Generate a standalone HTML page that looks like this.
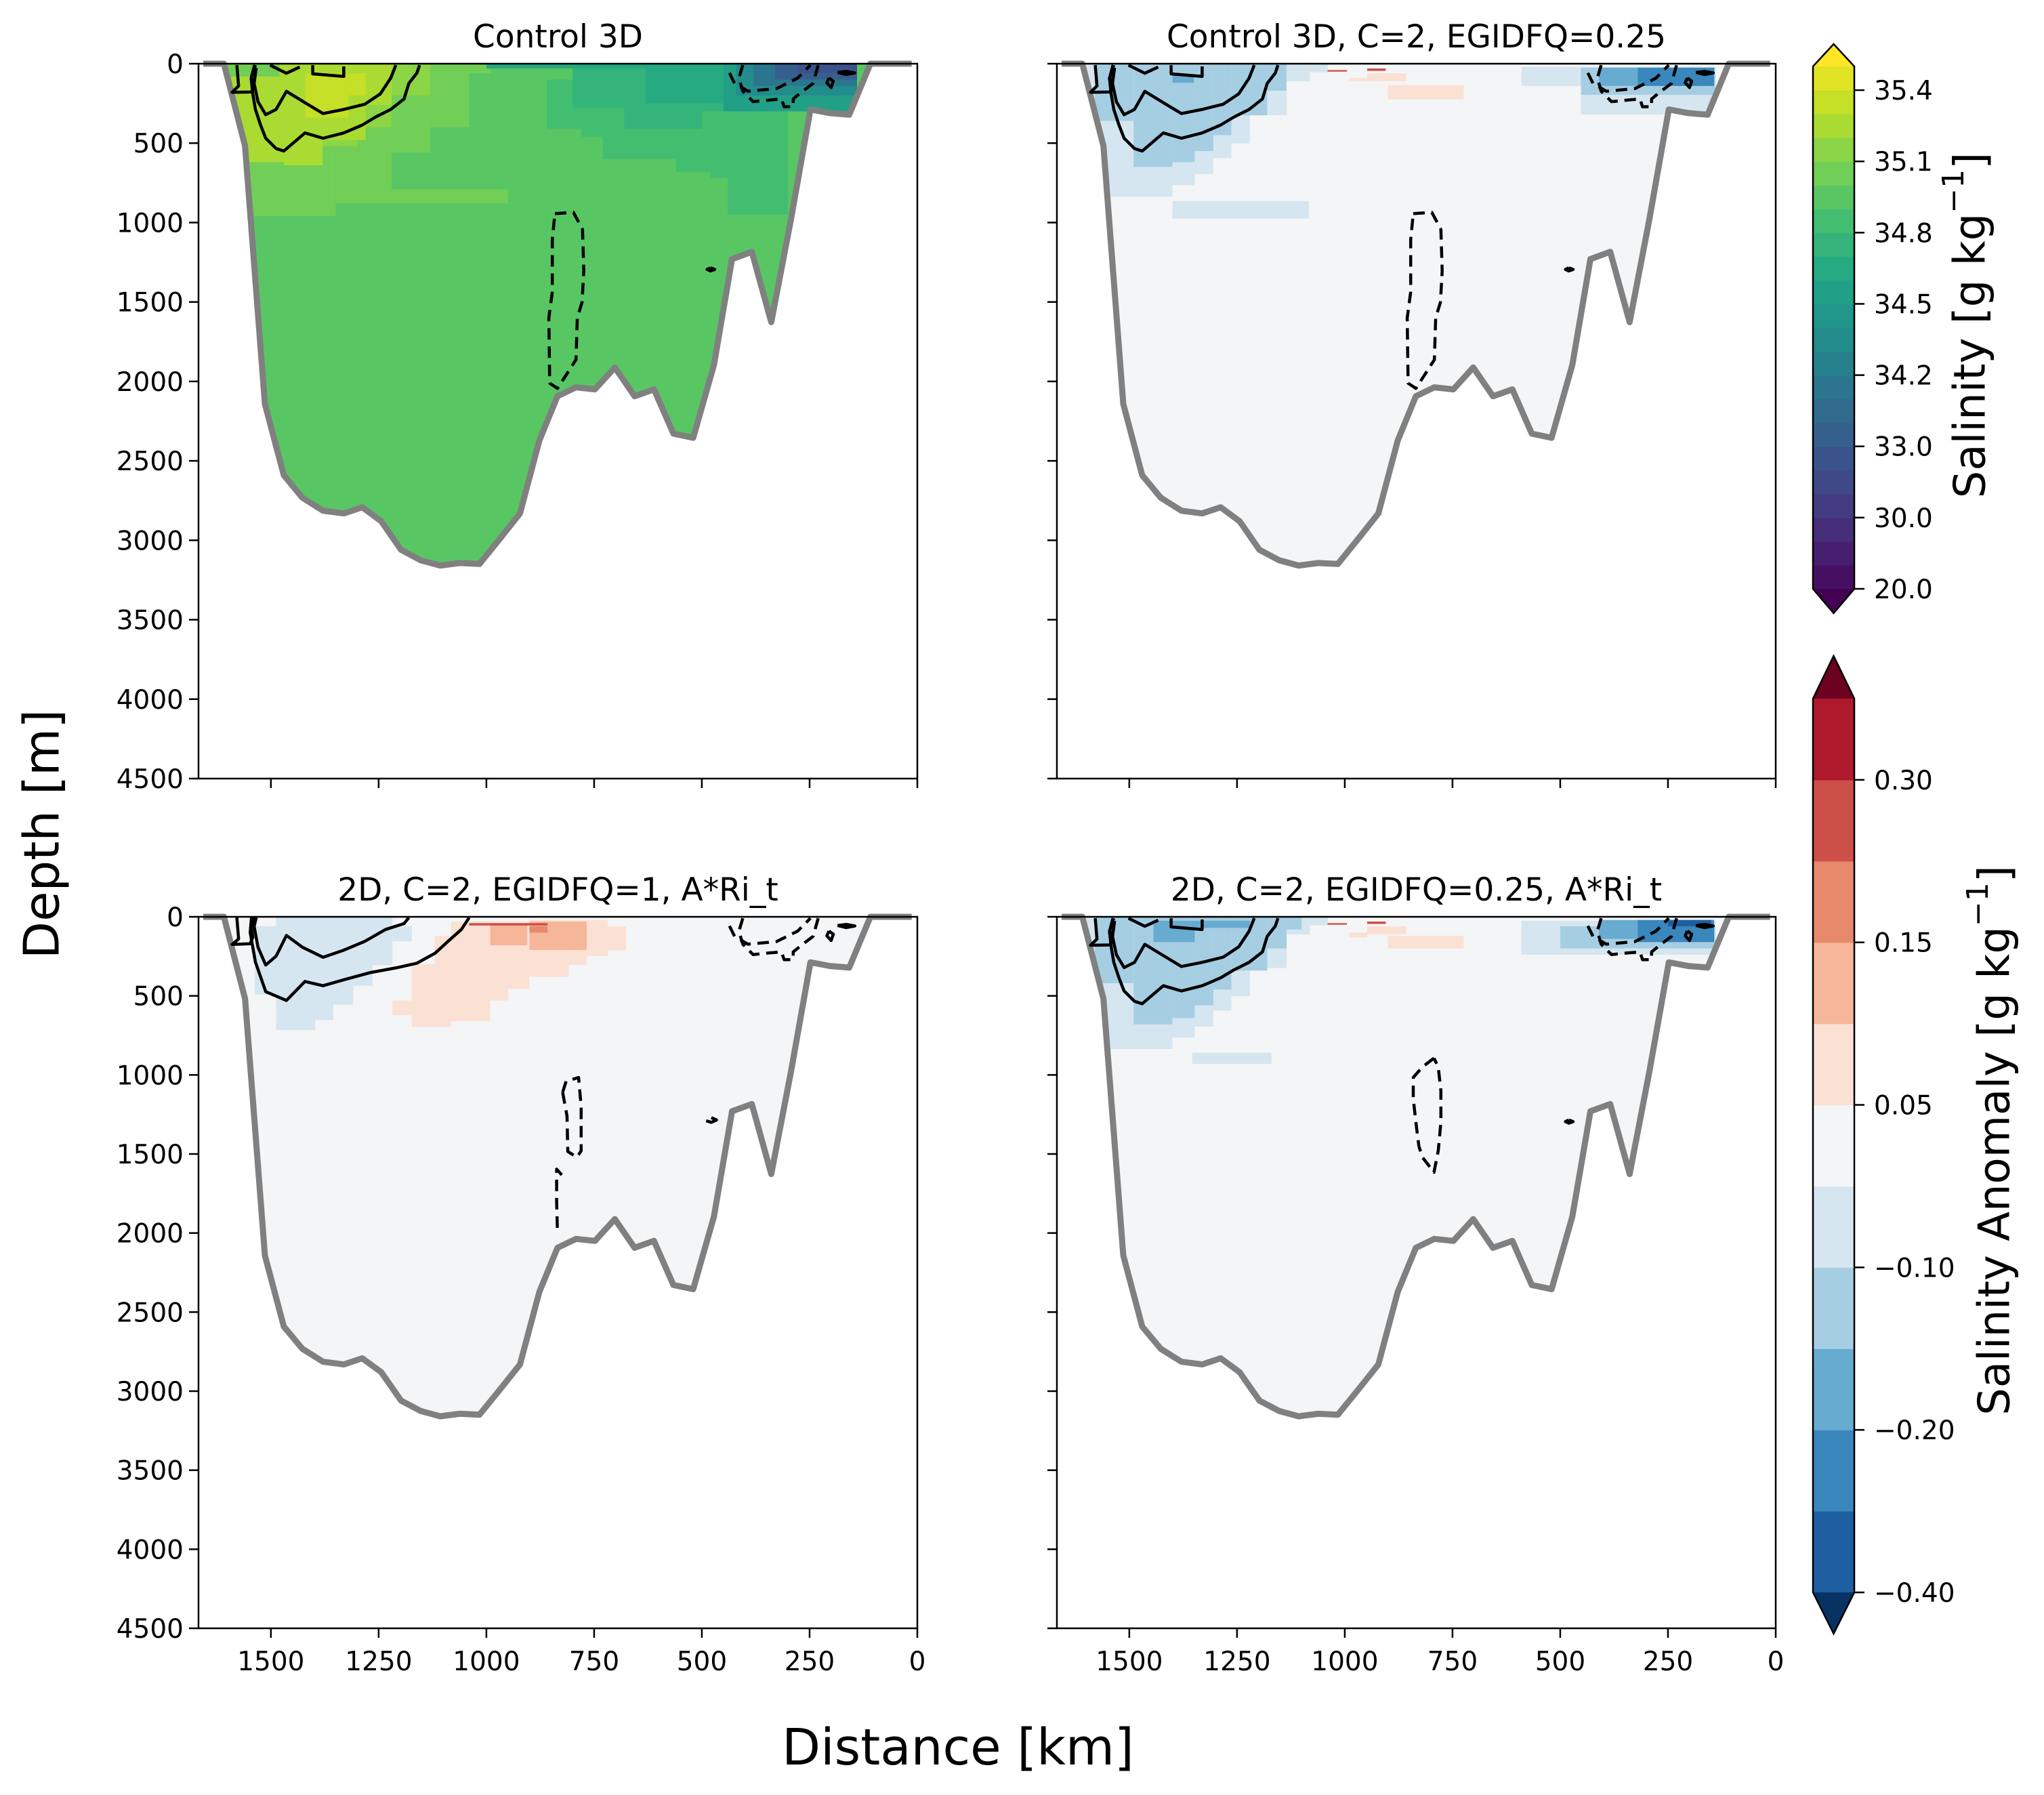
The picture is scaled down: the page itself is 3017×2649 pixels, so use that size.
<!DOCTYPE html>
<html><head><meta charset="utf-8"><style>
html,body{margin:0;padding:0;background:#fff;}
svg{display:block;font-family:"DejaVu Sans","Liberation Sans",sans-serif;}
</style></head><body>
<svg id="fig" xmlns="http://www.w3.org/2000/svg" width="3017" height="2649" viewBox="0 0 3017 2649">
<rect width="3017" height="2649" fill="#fff"/>
<g id="panels"></g>
<g id="cbars"></g>
<text x="67" y="1231" font-size="72" text-anchor="middle" dominant-baseline="middle" transform="rotate(-90 67 1231)">Depth [m]</text>
<text x="1414" y="2604" font-size="74" text-anchor="middle">Distance [km]</text>
<text x="2912" y="480" font-size="64" text-anchor="middle" dominant-baseline="middle" transform="rotate(-90 2912 480)">Salinity [g kg<tspan dy="-26" font-size="44">−1</tspan><tspan dy="26">]</tspan></text>
<text x="2948" y="1683" font-size="64" text-anchor="middle" dominant-baseline="middle" transform="rotate(-90 2948 1683)">Salinity Anomaly [g kg<tspan dy="-26" font-size="44">−1</tspan><tspan dy="26">]</tspan></text>
</svg>
<script>
const NS="http://www.w3.org/2000/svg";
// ---- data ----
const bathyDist=[1657,1609,1560,1514,1470,1427,1379,1331,1288,1244,1198,1152,1107,1062,1016,968,922,877,835,792,748,702,656,611,566,520,472,430,384,339,293,248,203,158,109,13];
const bathyDepth=[0,0,518,2142,2591,2732,2814,2831,2792,2880,3060,3126,3159,3143,3149,2988,2831,2372,2093,2037,2050,1912,2093,2050,2329,2355,1896,1230,1184,1627,977,288,311,321,0,0];
const xTicks=[1500,1250,1000,750,500,250,0];
const yTicks=[0,500,1000,1500,2000,2500,3000,3500,4000,4500];
const salLevels=[20,23.33,26.67,30,31,32,33,33.4,33.8,34.2,34.3,34.4,34.5,34.6,34.7,34.8,34.9,35.0,35.1,35.2,35.3,35.4,35.5];
const salTickVals=[20.0,30.0,33.0,34.2,34.5,34.8,35.1,35.4];
const salTickLabels=["20.0","30.0","33.0","34.2","34.5","34.8","35.1","35.4"];
const anoLevels=[-0.4,-0.3,-0.2,-0.15,-0.1,-0.05,0.05,0.1,0.15,0.2,0.3,0.4];
const anoTickVals=[-0.4,-0.2,-0.1,0.05,0.15,0.3];
const anoTickLabels=["−0.40","−0.20","−0.10","0.05","0.15","0.30"];
const tlBase=34.95;
const tlPatches=[[1668,1350,0,960,35.05],[1350,1220,0,880,35.05],[1220,1130,0,560,35.05],[1220,950,790,880,35.05],[1130,1040,0,400,35.05],[1040,990,0,60,35.05],
[1600,1440,0,560,35.15],[1440,1300,0,520,35.15],[1300,1220,0,400,35.15],[1220,1130,0,200,35.15],
[1590,1470,0,620,35.25],[1470,1380,0,640,35.25],[1380,1280,0,480,35.25],[1280,1220,0,260,35.25],
[1420,1320,60,340,35.35],[1320,1280,60,200,35.35],[1668,1480,0,80,35.05],
[860,780,100,410,34.85],[780,730,100,460,34.85],[730,560,100,600,34.85],[560,480,100,680,34.85],[480,440,100,720,34.85],[440,300,100,950,34.85],
[800,680,30,280,34.75],[680,500,30,410,34.75],[500,330,30,300,34.75],[630,450,20,250,34.65],[1000,450,0,30,34.65],
[450,140,0,300,34.55],[420,140,0,200,34.35],[380,140,0,140,34.0],[330,140,0,100,33.2],[280,140,0,60,32.5]];
const trPatches=[[1610,1400,0,836,-0.075],[1400,1348,0,765,-0.075],[1348,1305,0,694,-0.075],[1305,1263,0,594,-0.075],[1263,1220,0,502,-0.075],[1220,1135,0,324,-0.075],[1135,1081,0,111,-0.075],[1081,1039,0,54,-0.075],[1400,1083,865,975,-0.075],
[1580,1490,0,360,-0.125],[1490,1400,0,650,-0.125],[1400,1348,0,620,-0.125],[1348,1305,0,550,-0.125],[1305,1263,0,450,-0.125],[1263,1180,0,325,-0.125],[1180,1135,0,170,-0.125],[1400,1350,70,120,-0.175],
[590,400,20,140,-0.075],[452,140,20,320,-0.075],[452,140,25,196,-0.125],[410,150,25,140,-0.175],[320,143,25,140,-0.25],
[948,857,60,110,0.075],[900,724,135,225,0.075],[990,948,90,110,0.075],[1040,995,40,50,0.25],[948,905,30,45,0.22]];
const blPatches=[[1537,1488,60,492,-0.075],[1488,1397,0,716,-0.075],[1397,1355,0,653,-0.075],[1355,1309,0,555,-0.075],[1309,1264,0,436,-0.075],[1264,1218,0,305,-0.075],[1218,1173,60,155,-0.075],
[1218,1173,530,623,0.075],[1173,1082,300,697,0.075],[1120,1040,120,300,0.075],[1082,991,30,660,0.075],[991,949,30,530,0.075],[949,900,30,455,0.075],[900,809,20,379,0.075],[809,767,20,304,0.075],[767,718,20,248,0.075],[718,676,60,211,0.075],
[991,905,40,180,0.125],[900,767,30,210,0.125],[900,858,60,100,0.175],[1040,858,40,55,0.25]];
const brPatches=[[1610,1400,0,836,-0.075],[1400,1348,0,765,-0.075],[1348,1305,0,694,-0.075],[1305,1263,0,594,-0.075],[1263,1220,0,502,-0.075],[1220,1135,0,324,-0.075],[1135,1081,0,111,-0.075],[1081,1039,0,54,-0.075],[1354,1170,860,930,-0.075],
[1580,1490,0,420,-0.125],[1490,1400,0,680,-0.125],[1400,1348,0,640,-0.125],[1348,1305,0,560,-0.125],[1305,1263,0,460,-0.125],[1263,1180,0,340,-0.125],[1180,1135,0,200,-0.125],[1135,1100,0,80,-0.125],
[1444,1348,25,160,-0.175],[1348,1220,25,70,-0.175],
[590,140,25,240,-0.075],[500,140,60,200,-0.125],[410,150,20,140,-0.175],[320,143,20,160,-0.25],[250,150,20,60,-0.35],
[948,857,60,110,0.075],[900,724,120,200,0.075],[990,948,100,130,0.075],[1040,995,40,50,0.25],[948,905,30,45,0.22]];
// contours (distance km, depth m)
const topSolid=[
[[1155,9],[1161,58],[1180,124],[1191,222],[1222,288],[1258,337],[1288,386],[1331,436],[1379,469],[1421,436],[1470,550],[1488,534],[1512,469],[1524,386],[1536,288],[1542,190],[1546,91],[1536,9]],
[[1210,9],[1222,91],[1246,190],[1282,255],[1331,288],[1379,314],[1415,255],[1464,174],[1488,288],[1512,321],[1530,239],[1539,124],[1534,26]],
[[1579,9],[1575,140],[1590,180],[1545,178],[1540,150],[1545,85],[1538,9]],
[[1403,9],[1403,64],[1331,80],[1331,17]],
[[1502,9],[1464,60],[1433,21]],
[[205,90],[195,110],[200,150],[210,120],[205,90]],
[[185,55],[165,48],[145,58],[165,68],[185,55]],
[[480,1285],[470,1295],[480,1305],[488,1295],[480,1285]]];
const topDashed=[
[[405,9],[414,91],[405,173],[381,239],[345,229],[315,222],[309,271],[288,271],[288,222],[266,173],[242,124],[230,9]],
[[436,58],[424,124],[393,173],[327,157],[278,91],[248,9]],
[[841,944],[798,936],[777,1043],[774,1305],[778,1502],[789,1600],[792,1863],[835,2044],[853,2011],[855,1600],[847,1437],[847,1109],[841,944]]];
const blSolid=[
[[1040,5],[1058,80],[1089,155],[1119,230],[1161,293],[1210,323],[1270,353],[1331,398],[1379,436],[1421,409],[1464,529],[1512,473],[1536,286],[1548,99],[1545,5]],
[[1180,5],[1191,43],[1234,80],[1282,155],[1331,211],[1379,256],[1427,192],[1464,118],[1488,249],[1512,305],[1530,192],[1539,61],[1534,5]],
[[1579,5],[1575,140],[1590,175],[1548,170],[1542,130],[1546,61],[1538,5]],
[[205,90],[195,110],[200,150],[210,120],[205,90]],
[[185,55],[165,48],[145,58],[165,68],[185,55]],
[[478,1270],[466,1285],[478,1300],[490,1290]]];
const blDashed=[
[[405,9],[414,91],[405,173],[381,239],[345,229],[315,222],[309,271],[288,271],[288,222],[266,173],[242,124],[230,9]],
[[436,58],[424,124],[393,173],[327,157],[278,91],[248,9]],
[[823,1110],[815,1040],[786,1016],[780,1200],[780,1480],[790,1521],[811,1484],[813,1259],[823,1110]],
[[825,1633],[837,1596],[837,1800],[835,2008]]];
const brDashed=[
[[405,9],[414,91],[405,173],[381,239],[345,229],[315,222],[309,271],[288,271],[288,222],[266,173],[242,124],[230,9]],
[[436,58],[424,124],[393,173],[327,157],[278,91],[248,9]],
[[793,894],[820,950],[841,1016],[841,1150],[835,1300],[828,1450],[820,1520],[793,1616],[783,1480],[777,1300],[777,1100],[783,950],[793,894]]];
// ---- colours ----
const vir=["#440154","#482475","#414487","#355f8d","#2a788e","#21918c","#22a884","#44bf70","#7ad151","#bddf26","#fde725"];
function hex2(h){return [1,3,5].map(i=>parseInt(h.substr(i,2),16));}
function viridis(t){t=Math.max(0,Math.min(1,t));const f=t*10,i=Math.min(9,Math.floor(f)),u=f-i;const a=hex2(vir[i]),b=hex2(vir[i+1]);return "rgb("+a.map((v,k)=>Math.round(v+(b[k]-v)*u)).join(",")+")";}
const rdbu=["#1e5fa1","#3a87bd","#68abd0","#a6cee3","#d5e6f0","#f4f5f6","#fbe1d4","#f6b699","#e7896b","#cd5048","#ae1a2c"];
function band(levels,v){for(let i=0;i<levels.length-1;i++){if(v<levels[i+1])return i;}return levels.length-2;}
function salColor(v){return viridis((band(salLevels,v)+1)/23);}
function anoColor(v){return rdbu[band(anoLevels,v)];}
// ---- drawing ----
const svg=document.getElementById('fig');
const panelsG=document.getElementById('panels');
function mk(tag,attrs,parent){const e=document.createElementNS(NS,tag);for(const k in attrs)e.setAttribute(k,attrs[k]);(parent||panelsG).appendChild(e);return e;}
const defs=mk('defs',{},svg);
const panels=[
{id:'tl',x0:293,y0:94,w:1061,h:1055,title:'Control 3D',base:tlBase,patches:tlPatches,cf:salColor,solid:topSolid,dashed:topDashed,xl:false,yl:true},
{id:'tr',x0:1560,y0:94,w:1061,h:1055,title:'Control 3D, C=2, EGIDFQ=0.25',base:0,patches:trPatches,cf:anoColor,solid:topSolid,dashed:topDashed,xl:false,yl:false},
{id:'bl',x0:293,y0:1353,w:1061,h:1050,title:'2D, C=2, EGIDFQ=1, A*Ri_t',base:0,patches:blPatches,cf:anoColor,solid:blSolid,dashed:blDashed,xl:true,yl:true},
{id:'br',x0:1560,y0:1353,w:1061,h:1050,title:'2D, C=2, EGIDFQ=0.25, A*Ri_t',base:0,patches:brPatches,cf:anoColor,solid:topSolid,dashed:brDashed,xl:true,yl:false}];
const XMAX=1668,ZMAX=4500;
panels.forEach(p=>{
  const xs=d=>p.x0+(XMAX-d)/XMAX*p.w, ys=z=>p.y0+z/ZMAX*p.h;
  const g=mk('g',{});
  
  
  const cp=mk('clipPath',{id:'clip-'+p.id},defs);
  const poly=bathyDist.map((d,i)=>xs(d).toFixed(1)+','+ys(bathyDepth[i]).toFixed(1)).join(' ');
  mk('polygon',{points:poly},cp);
  const fg=mk('g',{'clip-path':'url(#clip-'+p.id+')'},g);
  
  
  const base=mk('rect',{x:p.x0,y:p.y0,width:p.w,height:p.h,fill:p.cf(p.base)},fg);
  
  
  p.patches.forEach(c=>{
    const r=mk('rect',{x:xs(c[0]),y:ys(c[2]),width:xs(c[1])-xs(c[0]),height:ys(c[3])-ys(c[2]),fill:p.cf(c[4])},fg);
    
    
  });
  const bl=mk('polyline',{points:poly,fill:'none',stroke:'#808080','stroke-width':9,'stroke-linejoin':'round'},g);
  
  
  const drawC=(arr,dash)=>arr.forEach(c=>{
    const pl=mk('polyline',{points:c.map(q=>xs(q[0]).toFixed(1)+','+ys(q[1]).toFixed(1)).join(' '),fill:'none',stroke:'#000','stroke-width':4.5,'stroke-linejoin':'round'},g);
    if(dash)pl.setAttribute('stroke-dasharray','17 10');
    
    
  });
  drawC(p.solid,false);drawC(p.dashed,true);
  const fr=mk('rect',{x:p.x0,y:p.y0,width:p.w,height:p.h,fill:'none',stroke:'#000','stroke-width':2.5},g);
  
  
  xTicks.forEach((t,i)=>{
    const x=xs(t);
    const tk=mk('line',{x1:x,x2:x,y1:p.y0+p.h,y2:p.y0+p.h+14,stroke:'#000','stroke-width':2.5},g);
    
    
    if(p.xl){const tx=mk('text',{x:x,y:p.y0+p.h+62,'font-size':39,'text-anchor':'middle'},g);tx.textContent=String(t);
      
      }
  });
  yTicks.forEach(t=>{
    const y=ys(t);
    const tk=mk('line',{x1:p.x0-14,x2:p.x0,y1:y,y2:y,stroke:'#000','stroke-width':2.5},g);
    
    
    if(p.yl){const tx=mk('text',{x:p.x0-22,y:y+14,'font-size':39,'text-anchor':'end'},g);tx.textContent=String(t);
      
      }
  });
  const tt=mk('text',{x:p.x0+p.w/2,y:p.y0-24,'font-size':47,'text-anchor':'middle'},g);
  tt.textContent=p.title;
  
  
});
// ---- colorbars ----
const cbG=document.getElementById('cbars');
function colorbar(x,top,bot,tipT,tipB,levels,colorAt,topExt,botExt,tickVals,tickLabels,name){
  const g=mk('g',{},cbG);
  
  
  const n=levels.length-1,bh=(bot-top)/n,w=61;
  for(let i=0;i<n;i++){
    const r=mk('rect',{x:x,y:bot-(i+1)*bh,width:w,height:bh+0.6,fill:colorAt(i)},g);
    
    
  }
  const t1=mk('polygon',{points:`${x},${top} ${x+w/2},${tipT} ${x+w},${top}`,fill:topExt},g);
  
  
  const t2=mk('polygon',{points:`${x},${bot} ${x+w/2},${tipB} ${x+w},${bot}`,fill:botExt},g);
  
  
  const ol=mk('polygon',{points:`${x},${top} ${x+w/2},${tipT} ${x+w},${top} ${x+w},${bot} ${x+w/2},${tipB} ${x},${bot}`,fill:'none',stroke:'#000','stroke-width':2.5},g);
  
  
  tickVals.forEach((v,k)=>{
    const idx=levels.indexOf(v);
    const y=bot-idx*bh;
    const tk=mk('line',{x1:x+w,x2:x+w+15,y1:y,y2:y,stroke:'#000','stroke-width':2.5},g);
    
    
    const tx=mk('text',{x:x+w+29,y:y+14,'font-size':39},g);
    tx.textContent=tickLabels[k];
    
    
  });
}
colorbar(2676,98,869,65,905,salLevels,i=>viridis((i+1)/23),'#fde725','#440154',salTickVals,salTickLabels,'salinity-colorbar');
colorbar(2676,1031,2350,968,2411,anoLevels,i=>rdbu[i],'#6c0120','#083263',anoTickVals,anoTickLabels,'anomaly-colorbar');
</script>
</body></html>
